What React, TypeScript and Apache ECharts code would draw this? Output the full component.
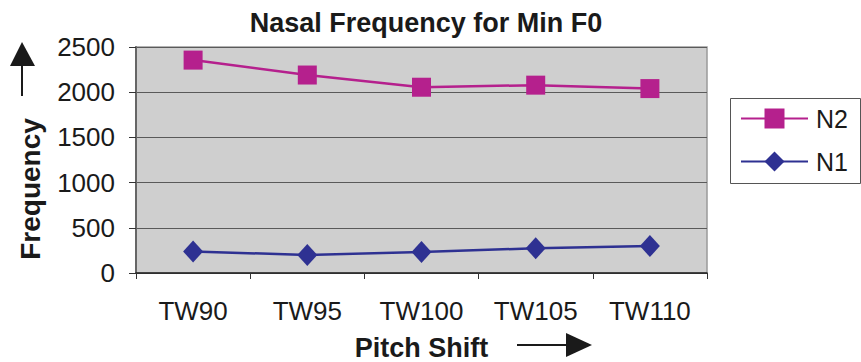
import React, { useEffect, useRef } from "react";
import * as echarts from "echarts";

const categories = ["TW90", "TW95", "TW100", "TW105", "TW110"];
const n2Values = [2355, 2190, 2055, 2078, 2040];
const n1Values = [238, 200, 233, 274, 298];
const yTicks = { min: 0, max: 2500, interval: 500 };

const FONT = "'Liberation Sans', Arial, Helvetica, sans-serif";
const INK = "#1a1a1a";

export default function App() {
  const ref = useRef<HTMLDivElement>(null);

  useEffect(() => {
    if (!ref.current) return;
    const chart = echarts.init(ref.current, null, { renderer: "svg" });
    chart.setOption({
      animation: false,
      backgroundColor: "#ffffff",
      title: {
        text: "Nasal Frequency for Min F0",
        left: 421,
        top: 4,
        textAlign: "center",
        textStyle: { fontFamily: FONT, fontSize: 27, fontWeight: "bold", color: INK },
      },
      grid: {
        left: 136,
        right: 154,
        top: 47,
        bottom: 89,
        outerBoundsMode: "none",
        containLabel: false,
        show: true,
        backgroundColor: "#cfcfcf",
        borderColor: "#9a9a9a",
        borderWidth: 1.5,
      },
      legend: {
        orient: "vertical",
        left: 730,
        top: 98,
        itemWidth: 67,
        itemHeight: 25,
        itemGap: 18,
        padding: [8, 18, 8, 10],
        borderWidth: 0,
        textStyle: { fontFamily: FONT, fontSize: 25, color: INK, padding: [0, 0, 0, 3] },
        data: ["N2", "N1"],
      },
      xAxis: {
        type: "category",
        data: categories,
        boundaryGap: true,
        axisLine: { lineStyle: { color: "#222", width: 1.5 } },
        axisTick: { show: true, length: 6, lineStyle: { color: "#333", width: 1 } },
        axisLabel: { fontFamily: FONT, fontSize: 26, color: INK, margin: 25 },
        name: "Pitch Shift",
        nameLocation: "middle",
        nameGap: 61,
        nameTextStyle: { fontFamily: FONT, fontSize: 27, fontWeight: "bold", color: INK },
      },
      yAxis: {
        type: "value",
        min: yTicks.min,
        max: yTicks.max,
        interval: yTicks.interval,
        axisLine: { show: true, lineStyle: { color: "#666", width: 2 } },
        axisTick: { show: true, length: 7, lineStyle: { color: "#333" } },
        axisLabel: {
          fontFamily: FONT,
          fontSize: 26,
          color: INK,
          margin: 21,
          formatter: (v: number) => String(v),
        },
        splitLine: { show: true, lineStyle: { color: "#5a5a5a", width: 1.2 } },
      },
      series: [
        {
          name: "N2",
          type: "line",
          data: n2Values,
          symbol: "rect",
          symbolSize: 19,
          itemStyle: { color: "#b5208d" },
          lineStyle: { color: "#b5208d", width: 2.5 },
        },
        {
          name: "N1",
          type: "line",
          data: n1Values,
          symbol: "diamond",
          symbolSize: [20, 22],
          itemStyle: { color: "#2e3192" },
          lineStyle: { color: "#2e3192", width: 2.5 },
        },
      ],
      graphic: [
        // legend frame
        {
          type: "rect",
          shape: { x: 730.5, y: 98.5, width: 130, height: 85 },
          style: { fill: "none", stroke: "#555", lineWidth: 1 },
          z: 0,
        },
        // y-axis title, set below the axis midpoint under its arrow
        {
          type: "text",
          x: 30,
          y: 189,
          rotation: Math.PI / 2,
          style: {
            text: "Frequency",
            font: `bold 28px ${FONT}`,
            fill: INK,
            align: "center",
            verticalAlign: "middle",
          },
        },
        // upward arrow beside the y-axis title
        { type: "line", shape: { x1: 22, y1: 96, x2: 22, y2: 62 }, style: { stroke: INK, lineWidth: 2 } },
        { type: "polygon", shape: { points: [[22, 42], [10, 66], [35, 66]] }, style: { fill: INK } },
        // rightward arrow beside the x-axis title
        { type: "line", shape: { x1: 517, y1: 345, x2: 570, y2: 345 }, style: { stroke: INK, lineWidth: 2 } },
        { type: "polygon", shape: { points: [[592, 345], [566, 333], [566, 357]] }, style: { fill: INK } },
      ],
    });
    return () => chart.dispose();
  }, []);

  return (
    <div
      ref={ref}
      style={{ position: "fixed", left: 0, top: 0, width: 861, height: 362 }}
    />
  );
}
